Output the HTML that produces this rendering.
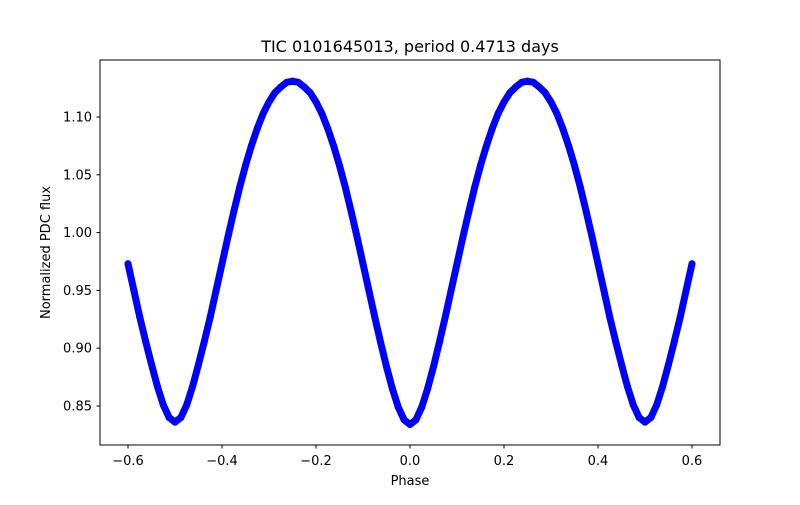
<!DOCTYPE html>
<html><head><meta charset="utf-8"><style>
body{margin:0;background:#fff;font-family:"Liberation Sans","DejaVu Sans",sans-serif;}
svg text{font-family:"DejaVu Sans","Liberation Sans",sans-serif;}
</style></head><body>
<svg id="chart" width="800" height="500" viewBox="0 0 800 500">
<rect width="800" height="500" fill="#fff"/>
<text x="410" y="52" font-size="16" text-anchor="middle">TIC 0101645013, period 0.4713 days</text>
<g id="marks"></g>
<rect x="100" y="60" width="620" height="385" fill="none" stroke="#000" stroke-width="1"/>
<g id="xticks"></g>
<g id="yticks"></g>
<text x="410" y="485" font-size="13" text-anchor="middle">Phase</text>
<text transform="translate(50,252.5) rotate(-90)" font-size="13" text-anchor="middle">Normalized PDC flux</text>
</svg>
<script>
const phases=[-0.6,-0.5875,-0.575,-0.5625,-0.55,-0.5375,-0.525,-0.5125,-0.5,-0.4875,-0.475,-0.4625,-0.45,-0.4375,-0.425,-0.4125,-0.4,-0.3875,-0.375,-0.3625,-0.35,-0.3375,-0.325,-0.3125,-0.3,-0.2875,-0.275,-0.2625,-0.25,-0.2375,-0.225,-0.2125,-0.2,-0.1875,-0.175,-0.1625,-0.15,-0.1375,-0.125,-0.1125,-0.1,-0.0875,-0.075,-0.0625,-0.05,-0.0375,-0.025,-0.0125,0,0.0125,0.025,0.0375,0.05,0.0625,0.075,0.0875,0.1,0.1125,0.125,0.1375,0.15,0.1625,0.175,0.1875,0.2,0.2125,0.225,0.2375,0.25,0.2625,0.275,0.2875,0.3,0.3125,0.325,0.3375,0.35,0.3625,0.375,0.3875,0.4,0.4125,0.425,0.4375,0.45,0.4625,0.475,0.4875,0.5,0.5125,0.525,0.5375,0.55,0.5625,0.575,0.5875,0.6];
const fluxes=[0.973,0.950,0.927,0.906,0.886,0.867,0.851,0.840,0.836,0.840,0.851,0.867,0.886,0.906,0.927,0.950,0.973,0.996,1.018,1.039,1.058,1.075,1.090,1.103,1.113,1.121,1.126,1.130,1.131,1.130,1.126,1.121,1.113,1.103,1.090,1.075,1.058,1.039,1.018,0.996,0.973,0.950,0.927,0.905,0.884,0.865,0.849,0.838,0.834,0.838,0.849,0.865,0.884,0.905,0.927,0.950,0.973,0.996,1.018,1.039,1.058,1.075,1.090,1.103,1.113,1.121,1.126,1.130,1.131,1.130,1.126,1.121,1.113,1.103,1.090,1.075,1.058,1.039,1.018,0.996,0.973,0.950,0.927,0.906,0.886,0.867,0.851,0.840,0.836,0.840,0.851,0.867,0.886,0.906,0.927,0.950,0.973];
const xTickVals=[-0.6,-0.4,-0.2,0.0,0.2,0.4,0.6];
const xTickLabels=["\u22120.6","\u22120.4","\u22120.2","0.0","0.2","0.4","0.6"];
const yTickVals=[0.85,0.90,0.95,1.00,1.05,1.10];
const yTickLabels=["0.85","0.90","0.95","1.00","1.05","1.10"];
const NS="http://www.w3.org/2000/svg";
const X=v=>410+v*470;
const Y=v=>232.6-(v-1.0)*1156;
const marks=document.getElementById('marks');
const pl=document.createElementNS(NS,'polyline');
pl.setAttribute('points',phases.map((p,i)=>X(p)+','+Y(fluxes[i])).join(' '));
pl.setAttribute('fill','none');pl.setAttribute('stroke','#0000ff');pl.setAttribute('stroke-width','7');
pl.setAttribute('stroke-linejoin','round');pl.setAttribute('stroke-linecap','round');


marks.appendChild(pl);
phases.forEach((p,i)=>{
 const c=document.createElementNS(NS,'circle');
 c.setAttribute('cx',X(p));c.setAttribute('cy',Y(fluxes[i]));c.setAttribute('r','3.5');c.setAttribute('fill','#0000ff');
 
 
 marks.appendChild(c);
});
const xt=document.getElementById('xticks');
xTickVals.forEach((v,i)=>{
 const l=document.createElementNS(NS,'line');
 l.setAttribute('x1',X(v));l.setAttribute('x2',X(v));l.setAttribute('y1',445);l.setAttribute('y2',448.5);l.setAttribute('stroke','#000');
 
 
 xt.appendChild(l);
 const t=document.createElementNS(NS,'text');
 t.setAttribute('x',X(v));t.setAttribute('y',465);t.setAttribute('font-size','13');t.setAttribute('text-anchor','middle');
 t.textContent=xTickLabels[i];
 
 
 xt.appendChild(t);
});
const yt=document.getElementById('yticks');
yTickVals.forEach((v,i)=>{
 const l=document.createElementNS(NS,'line');
 l.setAttribute('x1',96.5);l.setAttribute('x2',100);l.setAttribute('y1',Y(v));l.setAttribute('y2',Y(v));l.setAttribute('stroke','#000');
 
 
 yt.appendChild(l);
 const t=document.createElementNS(NS,'text');
 t.setAttribute('x',92);t.setAttribute('y',Y(v)+4.5);t.setAttribute('font-size','13');t.setAttribute('text-anchor','end');
 t.textContent=yTickLabels[i];
 
 
 yt.appendChild(t);
});
</script>
</body></html>
